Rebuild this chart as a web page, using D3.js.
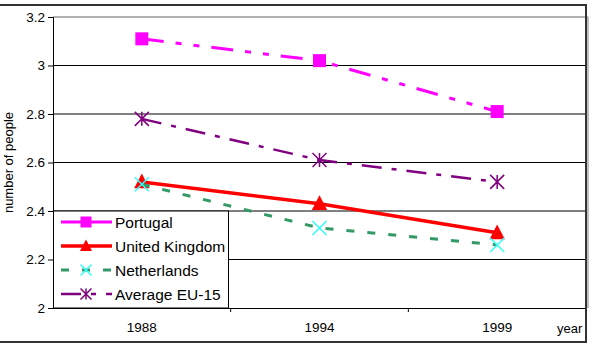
<!DOCTYPE html>
<html>
<head>
<meta charset="utf-8">
<script src="https://cdn.jsdelivr.net/npm/d3@7"></script>
<style>
  body { margin: 0; background: #fff; }
  text { font-family: Arial, "Liberation Sans", sans-serif; }
</style>
</head>
<body>
<div id="chart"></div>
<script>
const years = ['1988', '1994', '1999'];
const yTicks = [2, 2.2, 2.4, 2.6, 2.8, 3, 3.2];
const portugal = [3.11, 3.02, 2.81];
const unitedKingdom = [2.52, 2.43, 2.31];
const netherlands = [2.51, 2.33, 2.26];
const averageEU15 = [2.78, 2.61, 2.52];

const series = [
  {name: 'Portugal', values: portugal, color: '#ff00ff', width: 3, dash: '22,12,6,12,6,12', legendDash: '22,8', marker: 'square', mcolor: '#ff00ff'},
  {name: 'United Kingdom', values: unitedKingdom, color: '#ff0000', width: 3.5, dash: null, legendDash: null, marker: 'triangle', mcolor: '#ff0000'},
  {name: 'Netherlands', values: netherlands, color: '#339966', width: 3, dash: '8,13', legendDash: '8,13', marker: 'x', mcolor: '#33ffff'},
  {name: 'Average EU-15', values: averageEU15, color: '#800080', width: 2.5, dash: '20,10,5,10', legendDash: '20,10,5,10', marker: 'star', mcolor: '#800080'}
];

const W = 592, H = 344;
const svg = d3.select('#chart').append('svg')
  .attr('width', W)
  .attr('height', H);

const plot = {left: 53, right: 586, top: 17, bottom: 308};

const x = d3.scaleBand()
  .domain(years)
  .range([plot.left, plot.right]);

const y = d3.scaleLinear()
  .domain([2, 3.2])
  .range([plot.bottom, plot.top]);

// gridlines
svg.append('g')
  .selectAll('line')
  .data(yTicks.slice(1, -1))
  .enter()
  .append('line')
  .attr('x1', plot.left)
  .attr('x2', plot.right)
  .attr('y1', d => y(d))
  .attr('y2', d => y(d))
  .attr('stroke', '#000')
  .attr('stroke-width', 1);

// plot area top/right border (gray)
svg.append('line')
  .attr('x1', plot.left).attr('x2', plot.right + 2)
  .attr('y1', plot.top).attr('y2', plot.top)
  .attr('stroke', '#999').attr('stroke-width', 1.5);
svg.append('line')
  .attr('x1', plot.right + 2).attr('x2', plot.right + 2)
  .attr('y1', plot.top).attr('y2', plot.bottom)
  .attr('stroke', '#aaa').attr('stroke-width', 1.5);

// axes
const yAxis = svg.append('g')
  .attr('transform', `translate(${plot.left},0)`)
  .call(d3.axisLeft(y).tickValues(yTicks).tickFormat(d3.format('')).tickSize(5).tickPadding(3));
yAxis.select('.domain').attr('stroke', '#000');
yAxis.selectAll('text').attr('font-size', '13.5px').attr('fill', '#000');

const xAxis = svg.append('g')
  .attr('transform', `translate(0,${plot.bottom})`)
  .call(d3.axisBottom(x).tickSize(0).tickPadding(14));
xAxis.select('.domain').attr('stroke', '#000').attr('d', `M${plot.left},0.5H${plot.right}`);
xAxis.selectAll('text').attr('font-size', '13.5px').attr('fill', '#000');
// boundary ticks between categories
xAxis.selectAll('.bound')
  .data(years.slice(1))
  .enter()
  .append('line')
  .attr('x1', d => x(d))
  .attr('x2', d => x(d))
  .attr('y1', 0)
  .attr('y2', 4)
  .attr('stroke', '#000');

svg.append('text')
  .attr('transform', `translate(13,${(plot.top + plot.bottom) / 2}) rotate(-90)`)
  .attr('text-anchor', 'middle')
  .attr('font-size', '13px')
  .text('number of people');

svg.append('text')
  .attr('x', 557)
  .attr('y', 333)
  .attr('font-size', '13px')
  .text('year');

// outer chart border
svg.append('path')
  .attr('d', `M0,5H${plot.right}V342H0`)
  .attr('fill', 'none')
  .attr('stroke', '#333')
  .attr('stroke-width', 2);

function drawMarker(g, type, color, cx, cy, s) {
  if (type === 'square') {
    g.append('rect').attr('x', cx - s / 2).attr('y', cy - s / 2)
      .attr('width', s).attr('height', s).attr('fill', color);
  } else if (type === 'triangle') {
    g.append('path')
      .attr('d', `M${cx},${cy - s * 0.6}L${cx + s * 0.55},${cy + s * 0.45}L${cx - s * 0.55},${cy + s * 0.45}Z`)
      .attr('fill', color);
  } else if (type === 'x') {
    const h = s / 2;
    g.append('path')
      .attr('d', `M${cx - h},${cy - h}L${cx + h},${cy + h}M${cx + h},${cy - h}L${cx - h},${cy + h}`)
      .attr('stroke', color).attr('stroke-width', 1.5);
  } else if (type === 'star') {
    const h = s / 2;
    g.append('path')
      .attr('d', `M${cx - h},${cy - h}L${cx + h},${cy + h}M${cx + h},${cy - h}L${cx - h},${cy + h}M${cx},${cy - h}L${cx},${cy + h}`)
      .attr('stroke', color).attr('stroke-width', 1.5);
  }
}

const line = d3.line()
  .x((d, i) => x(years[i]) + x.bandwidth() / 2)
  .y(d => y(d));

series.forEach(s => {
  const g = svg.append('g');
  g.append('path')
    .datum(s.values)
    .attr('d', line)
    .attr('fill', 'none')
    .attr('stroke', s.color)
    .attr('stroke-width', s.width)
    .attr('stroke-dasharray', s.dash);
  s.values.forEach((v, i) => {
    drawMarker(g, s.marker, s.mcolor, x(years[i]) + x.bandwidth() / 2, y(v), s.marker === 'square' ? 13 : 14);
  });
});

// legend
const legend = svg.append('g');
legend.append('rect')
  .attr('x', plot.left + 0.5)
  .attr('y', 211)
  .attr('width', 175)
  .attr('height', plot.bottom - 211)
  .attr('fill', '#fff')
  .attr('stroke', '#000')
  .attr('stroke-width', 1);

series.forEach((s, i) => {
  const ly = 222 + i * 24;
  legend.append('line')
    .attr('x1', 61).attr('x2', 112)
    .attr('y1', ly).attr('y2', ly)
    .attr('stroke', s.color)
    .attr('stroke-width', s.width)
    .attr('stroke-dasharray', s.legendDash);
  drawMarker(legend, s.marker, s.mcolor, 86, ly, 11);
  legend.append('text')
    .attr('x', 115)
    .attr('y', ly + 5.5)
    .attr('font-size', '15.5px')
    .text(s.name);
});
</script>
</body>
</html>
